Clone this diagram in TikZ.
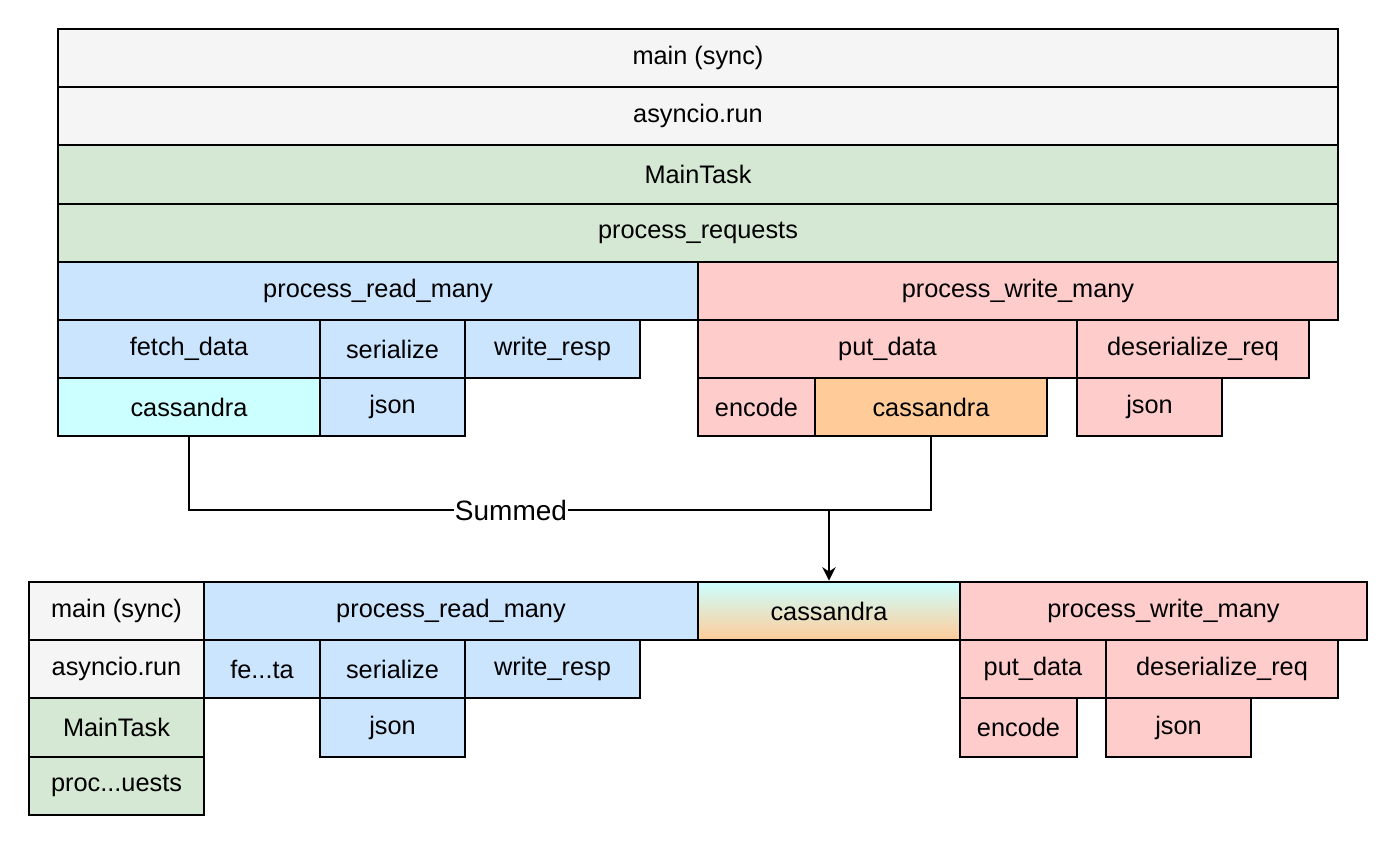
\documentclass[tikz,border=0pt]{standalone}
\usepackage{fontspec}
\setmainfont{Liberation Sans}
\usetikzlibrary{fit,arrows.meta}
\definecolor{cgrey}{HTML}{F5F5F5}
\definecolor{cgreen}{HTML}{D5E8D4}
\definecolor{cblue}{HTML}{CCE5FF}
\definecolor{cred}{HTML}{FFCCCC}
\definecolor{ccyan}{HTML}{CCFFFF}
\definecolor{corange}{HTML}{FFCC99}
\tikzset{bx/.style={draw=black,line width=2.2pt,inner sep=0pt,font=\fontsize{19}{22}\selectfont}}
\newcommand{\bx}[7]{\node[bx,fill=#6,fit={(#2,#3)(#4,#5)}] (#1) {};\node at (#1.center) {\fontsize{19}{22}\selectfont #7};}
\begin{document}
\begin{tikzpicture}[x=0.75pt,y=-0.75pt]
\useasboundingbox[fill=white] (0,0) rectangle (1400,847);
\bx{a}{58}{29}{1338}{87}{cgrey}{main (sync)}
\bx{b}{58}{87}{1338}{145}{cgrey}{asyncio.run}
\bx{c}{58}{145}{1338}{204}{cgreen}{MainTask}
\bx{d}{58}{204}{1338}{262}{cgreen}{process\_requests}
\bx{e}{58}{262}{698}{320}{cblue}{process\_read\_many}
\bx{f}{698}{262}{1338}{320}{cred}{process\_write\_many}
\bx{g}{58}{320}{320}{378}{cblue}{fetch\_data}
\bx{h}{320}{320}{465}{378}{cblue}{serialize}
\bx{i}{465}{320}{640}{378}{cblue}{write\_resp}
\bx{j}{698}{320}{1077}{378}{cred}{put\_data}
\bx{k}{1077}{320}{1309}{378}{cred}{deserialize\_req}
\bx{cR}{58}{378}{320}{436}{ccyan}{cassandra}
\bx{l}{320}{378}{465}{436}{cblue}{json}
\bx{m}{698}{378}{815}{436}{cred}{encode}
\bx{cW}{815}{378}{1047}{436}{corange}{cassandra}
\bx{n}{1077}{378}{1222}{436}{cred}{json}
% bottom
\bx{p1}{29}{582}{204}{640}{cgrey}{main (sync)}
\bx{p2}{29}{640}{204}{698}{cgrey}{asyncio.run}
\bx{p3}{29}{698}{204}{757}{cgreen}{MainTask}
\bx{p4}{29}{757}{204}{815}{cgreen}{proc...uests}
\bx{q1}{204}{582}{698}{640}{cblue}{process\_read\_many}
\node[bx,top color=ccyan,bottom color=corange,fit={(698,582)(960,640)}] (cB) {};
\node at (cB.center) {\fontsize{19}{22}\selectfont cassandra};
\bx{q3}{960}{582}{1367}{640}{cred}{process\_write\_many}
\bx{r1}{204}{640}{320}{698}{cblue}{fe...ta}
\bx{r2}{320}{640}{465}{698}{cblue}{serialize}
\bx{r3}{465}{640}{640}{698}{cblue}{write\_resp}
\bx{r4}{960}{640}{1106}{698}{cred}{put\_data}
\bx{r5}{1106}{640}{1338}{698}{cred}{deserialize\_req}
\bx{s1}{320}{698}{465}{757}{cblue}{json}
\bx{s2}{960}{698}{1077}{757}{cred}{encode}
\bx{s3}{1106}{698}{1251}{757}{cred}{json}
% connectors
\coordinate (jn) at (829,510);
\draw[line width=2pt] (cR.south) |- (jn) -| (cW.south);
\node[fill=white,inner sep=1pt,font=\fontsize{21}{24}\selectfont] (sum) at (511,510) {Summed};
\draw[line width=2pt,-{Stealth[length=10pt,width=10pt]}] (jn) -- (cB.north);
\end{tikzpicture}
\end{document}
